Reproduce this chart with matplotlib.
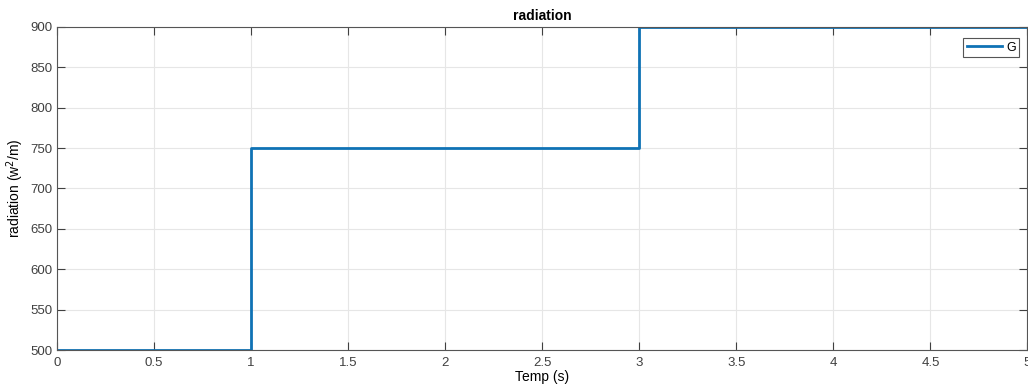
import matplotlib.pyplot as plt

# temps des changements et niveaux de radiation
temps = [0, 1, 3, 5]
radiation = [500, 750, 900, 900]

plt.rcParams['font.family'] = ['Liberation Sans', 'DejaVu Sans']

fig = plt.figure(figsize=(10.28, 3.89), dpi=100)
ax = fig.add_axes([0.0555, 0.100, 0.944, 0.831])

ax.step(temps, radiation, where='post', color='#0f72b5', linewidth=2, label='G')

ax.set_xlim(0, 5)
ax.set_ylim(500, 900)
ax.set_xticks([0, 0.5, 1, 1.5, 2, 2.5, 3, 3.5, 4, 4.5, 5])
ax.set_xticklabels(['0', '0.5', '1', '1.5', '2', '2.5', '3', '3.5', '4', '4.5', '5'])
ax.set_yticks(range(500, 901, 50))

ax.grid(True, color='#e6e6e6', linewidth=0.8)
ax.tick_params(direction='in', length=6, top=True, right=True, labelsize=9.5,
               colors='#404040', width=0.8)
ax.tick_params(axis='x', pad=5)
for s in ax.spines.values():
    s.set_color('#555555')
    s.set_linewidth(0.8)

ax.set_title('radiation', fontsize=10, fontweight='bold', pad=5)
ax.set_xlabel('Temp (s)', fontsize=10, labelpad=1)
ax.set_ylabel('radiation (w$^2$/m)', fontsize=10, labelpad=3)

leg = ax.legend(loc='upper right', fontsize=9, handlelength=2.8, borderpad=0.3,
                handletextpad=0.3, fancybox=False, framealpha=1,
                bbox_to_anchor=(0.998, 0.985))
leg.get_frame().set_edgecolor('#555555')
leg.get_frame().set_linewidth(0.8)

fig.savefig('out.png', dpi=100)
